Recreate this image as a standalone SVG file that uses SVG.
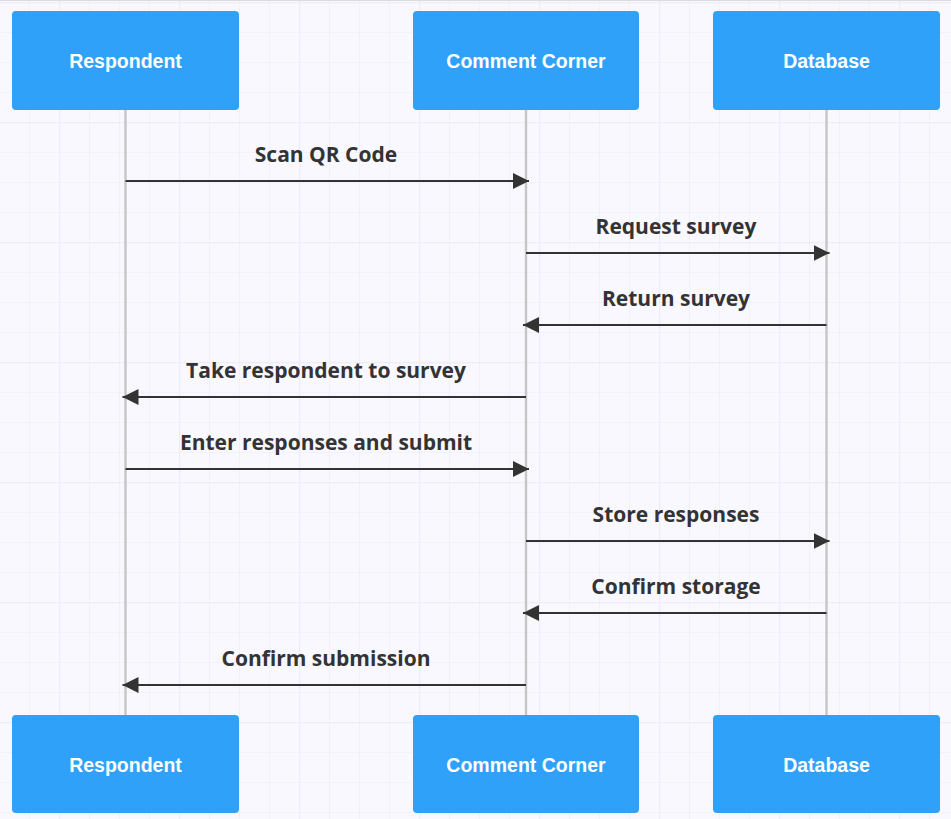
<svg xmlns="http://www.w3.org/2000/svg" width="951" height="819" viewBox="0 0 951 819">
  <defs>
    <pattern id="gridThin" x="-1" y="2" width="30" height="30" patternUnits="userSpaceOnUse">
      <path d="M0 0H30M0 0V30" fill="none" stroke="#ececfa" stroke-width="1.2"/>
    </pattern>
    <pattern id="gridThick" x="59" y="2" width="120" height="120" patternUnits="userSpaceOnUse">
      <path d="M0 0H120M0 0V120" fill="none" stroke="#ececfa" stroke-width="2.6"/>
    </pattern>
    <marker id="arrow" viewBox="0 0 16 16" refX="16" refY="8" markerWidth="16" markerHeight="16" markerUnits="userSpaceOnUse" orient="auto">
      <path d="M0 0L16 8L0 16Z" fill="#333333"/>
    </marker>
  </defs>
  <style>
    .actor rect { fill: #2fa1f8; }
    .actor text { fill: #ffffff; font-family: "Liberation Sans", Arial, sans-serif; font-weight: bold; font-size: 19.5px; text-anchor: middle; dominant-baseline: central; }
    .lifeline { stroke: #c6c6c6; stroke-width: 2.4; }
    .msg { stroke: #333333; stroke-width: 2; fill: none; marker-end: url(#arrow); }
    .label { fill: #333333; font-family: "Open Sans", "Noto Sans", sans-serif; font-weight: bold; font-size: 21px; text-anchor: middle; }
  </style>
  <rect width="951" height="819" fill="#f8f8fe"/>
  <rect width="951" height="819" fill="url(#gridThin)"/>
  <rect width="951" height="819" fill="url(#gridThick)"/>
  <line x1="0" y1="0.5" x2="951" y2="0.5" stroke="#dcdcdc" stroke-width="1"/>

  <g id="lifelines">
    <line class="lifeline" x1="125.5" y1="110" x2="125.5" y2="715"/>
    <line class="lifeline" x1="526" y1="110" x2="526" y2="715"/>
    <line class="lifeline" x1="826.5" y1="110" x2="826.5" y2="715"/>
  </g>

  <g id="actor-respondent-top" class="actor">
    <rect x="12" y="11" width="227" height="99" rx="4"/>
    <text x="125.5" y="61">Respondent</text>
  </g>
  <g id="actor-commentcorner-top" class="actor">
    <rect x="413" y="11" width="226" height="99" rx="4"/>
    <text x="526" y="61">Comment Corner</text>
  </g>
  <g id="actor-database-top" class="actor">
    <rect x="713" y="11" width="227" height="99" rx="4"/>
    <text x="826.5" y="61">Database</text>
  </g>

  <g id="actor-respondent-bottom" class="actor">
    <rect x="12" y="715" width="227" height="98" rx="4"/>
    <text x="125.5" y="765">Respondent</text>
  </g>
  <g id="actor-commentcorner-bottom" class="actor">
    <rect x="413" y="715" width="226" height="98" rx="4"/>
    <text x="526" y="765">Comment Corner</text>
  </g>
  <g id="actor-database-bottom" class="actor">
    <rect x="713" y="715" width="227" height="98" rx="4"/>
    <text x="826.5" y="765">Database</text>
  </g>

  <g id="connectors">
    <line class="msg" x1="125.5" y1="181" x2="529" y2="181"/>
    <line class="msg" x1="526" y1="253" x2="829.5" y2="253"/>
    <line class="msg" x1="826.5" y1="325" x2="523" y2="325"/>
    <line class="msg" x1="526" y1="397" x2="122.5" y2="397"/>
    <line class="msg" x1="125.5" y1="469" x2="529" y2="469"/>
    <line class="msg" x1="526" y1="541" x2="829.5" y2="541"/>
    <line class="msg" x1="826.5" y1="613" x2="523" y2="613"/>
    <line class="msg" x1="526" y1="685" x2="122.5" y2="685"/>
  </g>

  <g id="labels">
    <text class="label" x="326" y="162">Scan QR Code</text>
    <text class="label" x="676" y="234">Request survey</text>
    <text class="label" x="676" y="306">Return survey</text>
    <text class="label" x="326" y="378">Take respondent to survey</text>
    <text class="label" x="326" y="450">Enter responses and submit</text>
    <text class="label" x="676" y="522">Store responses</text>
    <text class="label" x="676" y="594">Confirm storage</text>
    <text class="label" x="326" y="666">Confirm submission</text>
  </g>
</svg>
